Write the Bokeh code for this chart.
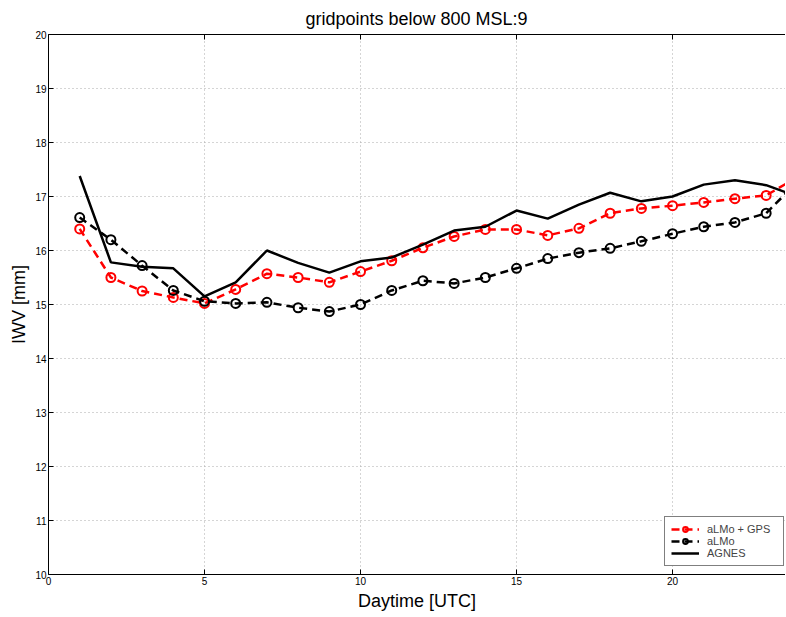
from bokeh.plotting import figure
from bokeh.models import LinearAxis, Legend, LegendItem, FixedTicker, Range1d
from bokeh.embed import file_html
from bokeh.resources import INLINE

hours = list(range(1, 25))
almo_gps = [16.40, 15.50, 15.25, 15.13, 15.02, 15.28, 15.57, 15.50, 15.41, 15.61,
            15.81, 16.05, 16.26, 16.39, 16.39, 16.28, 16.41, 16.69, 16.78, 16.83,
            16.89, 16.96, 17.02, 17.36]
almo = [16.61, 16.20, 15.72, 15.26, 15.06, 15.02, 15.04, 14.94, 14.87, 15.00,
        15.26, 15.44, 15.39, 15.50, 15.67, 15.85, 15.96, 16.04, 16.17, 16.31,
        16.44, 16.52, 16.69, 17.27]
agnes = [17.38, 15.78, 15.70, 15.67, 15.15, 15.41, 16.00, 15.77, 15.59, 15.80,
         15.87, 16.11, 16.37, 16.44, 16.74, 16.59, 16.85, 17.07, 16.91, 17.00,
         17.22, 17.30, 17.21, 17.00]
x_ticks = [0, 5, 10, 15, 20]
y_ticks = list(range(10, 21))
title_text = "gridpoints below 800 MSL:9"
x_label = "Daytime [UTC]"
y_label = "IWV [mm]"
series_labels = ["aLMo + GPS", "aLMo", "AGNES"]

FONT = "Liberation Sans"
FW, FH = 737, 540

p = figure(frame_width=FW, frame_height=FH, output_backend="svg", toolbar_location=None,
           x_range=Range1d(0, 23.62), y_range=Range1d(10, 20),
           min_border_left=48, min_border_right=0, min_border_top=34, min_border_bottom=30,
           x_axis_label=x_label, y_axis_label=y_label)
p.outline_line_color = None
p.background_fill_color = "white"
p.border_fill_color = "white"

p.title.text = title_text
p.title.align = "left"
p.title.offset = 257
p.title.text_font = FONT
p.title.text_font_size = "18px"
p.title.text_font_style = "normal"
p.title.text_color = "black"
p.title.standoff = 11

for ax in (p.xaxis[0], p.yaxis[0]):
    ax.major_tick_in = 5
    ax.major_tick_out = 0
    ax.minor_tick_line_color = None
    ax.axis_line_color = "black"
    ax.major_tick_line_color = "black"
    ax.major_label_text_font = FONT
    ax.major_label_text_font_size = "10px"
    ax.major_label_text_color = "black"
    ax.axis_label_text_font = FONT
    ax.axis_label_text_font_style = "normal"
    ax.axis_label_text_color = "black"
    ax.axis_label_text_font_size = "18px"
    ax.major_label_standoff = 2
    ax.axis_label_standoff = 3

p.xaxis[0].ticker = FixedTicker(ticks=x_ticks)
p.yaxis[0].ticker = FixedTicker(ticks=y_ticks)

# top frame edge with inward tick marks, no labels
top = LinearAxis(ticker=FixedTicker(ticks=[], minor_ticks=x_ticks),
                 major_tick_line_color=None, minor_tick_in=5, minor_tick_out=0,
                 minor_tick_line_color="black", axis_line_color="black",
                 major_label_standoff=0)
p.add_layout(top, "above")

p.xgrid.ticker = FixedTicker(ticks=x_ticks)
p.ygrid.ticker = FixedTicker(ticks=y_ticks)
for g in (p.xgrid[0], p.ygrid[0]):
    g.grid_line_color = "#aaaaaa"
    g.grid_line_dash = "1 3"
    g.grid_line_width = 1

r1l = p.line(hours, almo_gps, line_color="#ff0000", line_width=2.5, line_dash="8 5")
r1s = p.scatter(hours, almo_gps, marker="circle", size=9, fill_color=None,
                line_color="#ff0000", line_width=2)
r2l = p.line(hours, almo, line_color="black", line_width=2.5, line_dash="8 5")
r2s = p.scatter(hours, almo, marker="circle", size=9, fill_color=None,
                line_color="black", line_width=2)
r3l = p.line(hours, agnes, line_color="black", line_width=2.5)

legend = Legend(items=[LegendItem(label=series_labels[0], renderers=[r1l, r1s]),
                       LegendItem(label=series_labels[1], renderers=[r2l, r2s]),
                       LegendItem(label=series_labels[2], renderers=[r3l])],
                location=(FW - 121, 8))
legend.border_line_color = "black"
legend.border_line_width = 1
legend.label_text_font = FONT
legend.label_text_font_size = "11px"
legend.label_height = 12
legend.glyph_height = 12
legend.glyph_width = 28
legend.label_width = 70
legend.spacing = 0
legend.padding = 6
legend.margin = 0
legend.label_standoff = 8
legend.background_fill_alpha = 1.0
p.add_layout(legend)

open("out.html", "w").write(file_html(p, INLINE))
